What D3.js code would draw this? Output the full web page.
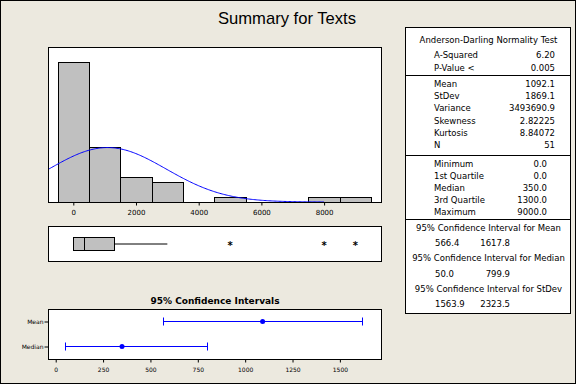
<!DOCTYPE html>
<html>
<head>
<meta charset="utf-8">
<script src="https://cdn.jsdelivr.net/npm/d3@7"></script>
<style>
  html, body { margin: 0; padding: 0; background: #ECE9DF; }
  svg text { font-family: "DejaVu Sans", sans-serif; fill: #000; }
</style>
</head>
<body>
<div id="chart"></div>
<script>
// histogram bins (centres, width 1000) and counts
var binCenters = [0, 1000, 2000, 3000, 4000, 5000, 6000, 7000, 8000, 9000];
var binCounts  = [28, 11, 5, 4, 0, 1, 0, 0, 1, 1];
var histTicks  = [0, 2000, 4000, 6000, 8000];

// boxplot
var boxQ1 = 0, boxMedian = 350, boxQ3 = 1300;
var whiskerLow = 0, whiskerHigh = 3000;
var outliers = [5000, 8000, 9000];

// confidence intervals
var ciLabels = ["Mean", "Median"];
var ciPoint  = [1092.1, 350.0];
var ciLow    = [566.4, 50.0];
var ciHigh   = [1617.8, 799.9];
var ciTicks  = [0, 250, 500, 750, 1000, 1250, 1500];

// stats table
var testRows  = [["A-Squared", "6.20"], ["P-Value <", "0.005"]];
var momentRows = [["Mean", "1092.1"], ["StDev", "1869.1"], ["Variance", "3493690.9"],
                  ["Skewness", "2.82225"], ["Kurtosis", "8.84072"], ["N", "51"]];
var quantRows = [["Minimum", "0.0"], ["1st Quartile", "0.0"], ["Median", "350.0"],
                 ["3rd Quartile", "1300.0"], ["Maximum", "9000.0"]];
var intervalRows = [["95% Confidence Interval for Mean", "566.4", "1617.8"],
                    ["95% Confidence Interval for Median", "50.0", "799.9"],
                    ["95% Confidence Interval for StDev", "1563.9", "2323.5"]];

var mean = 1092.1, stdev = 1869.1, n = 51, binWidth = 1000;

var width = 576, height = 384;
var svg = d3.select("#chart").append("svg")
  .attr("width", width).attr("height", height);

svg.append("rect").attr("x", 0.5).attr("y", 0.5)
  .attr("width", width - 1).attr("height", height - 1)
  .attr("fill", "#ECE9DF").attr("stroke", "#000");

svg.append("text").attr("x", 287).attr("y", 24)
  .attr("text-anchor", "middle")
  .style("font-family", "'Liberation Sans', Arial, sans-serif")
  .style("font-size", "16.6px").text("Summary for Texts");

// ---- histogram ----
var hp = {left: 48, right: 381, top: 47, bottom: 202};
var x = d3.scaleLinear().domain([-807, 9815]).range([hp.left, hp.right]);
var y = d3.scaleLinear().domain([0, 31]).range([hp.bottom, hp.top]);

svg.append("rect").attr("x", hp.left + 0.5).attr("y", hp.top + 0.5)
  .attr("width", hp.right - hp.left).attr("height", hp.bottom - hp.top)
  .attr("fill", "#fff");

var bins = binCenters.map((c, i) => ({c: c, n: binCounts[i]})).filter(d => d.n > 0);
svg.selectAll(".bar").data(bins).enter().append("rect")
  .attr("class", "bar")
  .attr("x", d => Math.round(x(d.c - binWidth / 2)) + 0.5)
  .attr("y", d => Math.round(y(d.n)) + 0.5)
  .attr("width", d => Math.round(x(d.c + binWidth / 2)) - Math.round(x(d.c - binWidth / 2)))
  .attr("height", d => Math.round(y(0)) - Math.round(y(d.n)))
  .attr("fill", "#C0C0C0").attr("stroke", "#000");

// fitted normal curve
var curveX = d3.range(-807, 8000, 40);
var pdf = v => n * binWidth / (stdev * Math.sqrt(2 * Math.PI)) * Math.exp(-0.5 * Math.pow((v - mean) / stdev, 2));
svg.append("path").datum(curveX)
  .attr("d", d3.line().x(v => x(v)).y(v => y(pdf(v))))
  .attr("fill", "none").attr("stroke", "#0000FF").attr("stroke-width", 1);

svg.append("rect").attr("x", hp.left + 0.5).attr("y", hp.top + 0.5)
  .attr("width", hp.right - hp.left).attr("height", hp.bottom - hp.top)
  .attr("fill", "none").attr("stroke", "#000");

var xAxis = svg.append("g").attr("transform", `translate(0,${hp.bottom + 0.5})`)
  .call(d3.axisBottom(x).tickValues(histTicks).tickSize(3).tickSizeOuter(0).tickFormat(d3.format("d")));
xAxis.select(".domain").remove();
xAxis.selectAll("text").style("font-size", "7px").style("font-family", "'DejaVu Sans'").attr("dy", "0.9em");

// ---- boxplot ----
var bp = {top: 226, bottom: 261, boxTop: 237, boxBottom: 250};
svg.append("rect").attr("x", hp.left + 0.5).attr("y", bp.top + 0.5)
  .attr("width", hp.right - hp.left).attr("height", bp.bottom - bp.top)
  .attr("fill", "#fff").attr("stroke", "#000");
var mid = (bp.boxTop + bp.boxBottom) / 2 + 0.5;
svg.append("line").attr("x1", x(boxQ3)).attr("x2", x(whiskerHigh))
  .attr("y1", mid).attr("y2", mid).attr("stroke", "#000");
svg.append("line").attr("x1", x(whiskerLow)).attr("x2", x(boxQ1))
  .attr("y1", mid).attr("y2", mid).attr("stroke", "#000");
svg.append("rect").attr("x", Math.round(x(boxQ1)) + 0.5).attr("y", bp.boxTop + 0.5)
  .attr("width", Math.round(x(boxQ3)) - Math.round(x(boxQ1))).attr("height", bp.boxBottom - bp.boxTop)
  .attr("fill", "#C0C0C0").attr("stroke", "#000");
svg.append("line").attr("x1", Math.round(x(boxMedian)) + 0.5).attr("x2", Math.round(x(boxMedian)) + 0.5)
  .attr("y1", bp.boxTop).attr("y2", bp.boxBottom + 1).attr("stroke", "#000");
svg.selectAll(".outlier").data(outliers).enter().append("text")
  .attr("class", "outlier").attr("x", d => x(d)).attr("y", mid + 5)
  .attr("text-anchor", "middle").style("font-size", "10px").style("font-weight", "bold")
  .text("*");

// ---- confidence intervals ----
var cp = {left: 48, right: 381, top: 309, bottom: 359};
var xc = d3.scaleLinear().domain([-40.7, 1717]).range([cp.left, cp.right]);
var yc = d3.scalePoint().domain(ciLabels).range([321.5, 346.5]);

svg.append("text").attr("x", (cp.left + cp.right) / 2 + 0.5).attr("y", 303.5)
  .attr("text-anchor", "middle").style("font-size", "9px").style("font-weight", "bold")
  .text("95% Confidence Intervals");

svg.append("rect").attr("x", cp.left + 0.5).attr("y", cp.top + 0.5)
  .attr("width", cp.right - cp.left).attr("height", cp.bottom - cp.top)
  .attr("fill", "#fff").attr("stroke", "#000");

var ci = ciLabels.map((l, i) => ({l: l, p: ciPoint[i], lo: ciLow[i], hi: ciHigh[i]}));
var g = svg.selectAll(".ci").data(ci).enter().append("g").attr("class", "ci");
g.append("line").attr("x1", d => xc(d.lo)).attr("x2", d => xc(d.hi))
  .attr("y1", d => yc(d.l)).attr("y2", d => yc(d.l)).attr("stroke", "#0000FF");
g.append("line").attr("x1", d => Math.round(xc(d.lo)) + 0.5).attr("x2", d => Math.round(xc(d.lo)) + 0.5)
  .attr("y1", d => yc(d.l) - 4).attr("y2", d => yc(d.l) + 4).attr("stroke", "#0000FF");
g.append("line").attr("x1", d => Math.round(xc(d.hi)) + 0.5).attr("x2", d => Math.round(xc(d.hi)) + 0.5)
  .attr("y1", d => yc(d.l) - 4).attr("y2", d => yc(d.l) + 4).attr("stroke", "#0000FF");
g.append("circle").attr("cx", d => xc(d.p)).attr("cy", d => yc(d.l)).attr("r", 2.5)
  .attr("fill", "#0000FF");

var yAxisC = svg.append("g").attr("transform", `translate(${cp.left + 0.5},0)`)
  .call(d3.axisLeft(yc).tickSize(4).tickSizeOuter(0));
yAxisC.select(".domain").remove();
yAxisC.selectAll("text").style("font-size", "6px").style("font-family", "'DejaVu Sans'").attr("x", -5);

var xAxisC = svg.append("g").attr("transform", `translate(0,${cp.bottom + 0.5})`)
  .call(d3.axisBottom(xc).tickValues(ciTicks).tickSize(3).tickSizeOuter(0).tickFormat(d3.format("d")));
xAxisC.select(".domain").remove();
xAxisC.selectAll("text").style("font-size", "6px").style("font-family", "'DejaVu Sans'").attr("dy", "1em");

// ---- stats table ----
var tb = {left: 405, right: 570, top: 27, bottom: 313};
svg.append("rect").attr("x", tb.left + 0.5).attr("y", tb.top + 0.5)
  .attr("width", tb.right - tb.left).attr("height", tb.bottom - tb.top)
  .attr("fill", "#fff").attr("stroke", "#000");
[75, 155, 219].forEach(function(yy) {
  svg.append("line").attr("x1", tb.left).attr("x2", tb.right)
    .attr("y1", yy + 0.5).attr("y2", yy + 0.5).attr("stroke", "#000");
});

var tfont = "8.5px";
var cx = (tb.left + tb.right) / 2 + 1;
function rowText(xx, yy, s, anchor) {
  svg.append("text").attr("x", xx).attr("y", yy + 3)
    .attr("text-anchor", anchor || "start").style("font-size", tfont).text(s);
}
rowText(cx, 40, "Anderson-Darling Normality Test", "middle");
testRows.forEach((r, i) => { rowText(434, 54.5 + i * 13, r[0]); rowText(555, 54.5 + i * 13, r[1], "end"); });
momentRows.forEach((r, i) => { rowText(434, 84 + i * 12.2, r[0]); rowText(555, 84 + i * 12.2, r[1], "end"); });
quantRows.forEach((r, i) => { rowText(434, 164 + i * 12, r[0]); rowText(547, 164 + i * 12, r[1], "end"); });
intervalRows.forEach((r, i) => {
  rowText(cx, 227.5 + i * 30.5, r[0], "middle");
  rowText(435, 243 + i * 30.5, r[1]);
  rowText(510, 243 + i * 30.5, r[2], "end");
});
</script>
</body>
</html>
